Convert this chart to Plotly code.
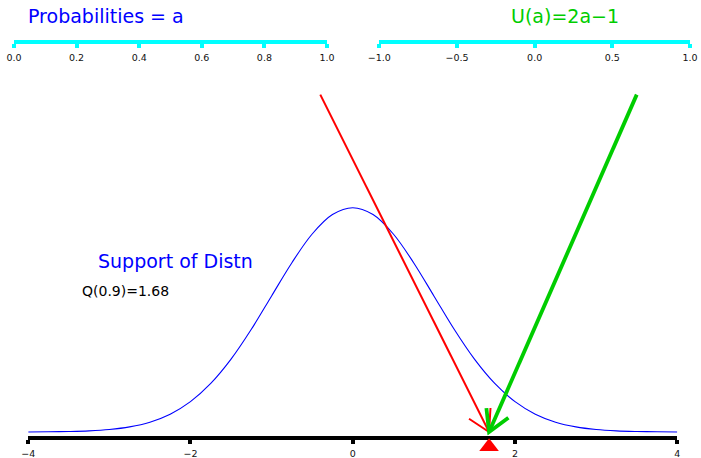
import math
import plotly.graph_objects as go

W, H = 701, 458

# ---------------- data ----------------
prob_ticks = [0.0, 0.2, 0.4, 0.6, 0.8, 1.0]
u_ticks = [-1.0, -0.5, 0.0, 0.5, 1.0]
support_ticks = [-4, -2, 0, 2, 4]

a_value = 0.9        # probability marked on the top-left axis
u_value = 0.8        # U(a) = 2a-1 marked on the top-right axis
q_value = 1.68       # quantile marked on the support axis

curve_x = [-4.0, -3.75, -3.5, -3.25, -3.0, -2.75, -2.5, -2.25, -2.0, -1.75, -1.5,
           -1.25, -1.0, -0.75, -0.5, -0.25, 0.0, 0.25, 0.5, 0.75, 1.0, 1.25, 1.5,
           1.75, 2.0, 2.25, 2.5, 2.75, 3.0, 3.25, 3.5, 3.75, 4.0]
curve_y = [0.0001, 0.0004, 0.0009, 0.0020, 0.0044, 0.0091, 0.0175, 0.0317, 0.0540,
           0.0863, 0.1295, 0.1826, 0.2420, 0.3011, 0.3521, 0.3867, 0.3989, 0.3867,
           0.3521, 0.3011, 0.2420, 0.1826, 0.1295, 0.0863, 0.0540, 0.0317, 0.0175,
           0.0091, 0.0044, 0.0020, 0.0009, 0.0004, 0.0001]

red_arrow_from = (-0.4, 0.6)
green_arrow_from = (3.5, 0.6)
arrow_to = (q_value, 0.0)

# ---------------- layout geometry (pixels) ----------------
MX0, MX1 = 28.2, 677.3          # pixel span of -4..4
KX = (MX1 - MX0) / 8.0          # px per x unit
BASE_PY = 432.0                 # pixel row of density 0
KY = 562.3                      # px per density unit
main_axis_py = 435.5            # domain edge (line drawn ~2px below)
main_yrange = [-(main_axis_py - BASE_PY) / KY, BASE_PY / KY]
top_axis_py = 39.7

FONT = "DejaVu Sans"
BLUE = "#0000FF"
RED = "#FF0000"
GREEN = "#00CD00"
CYAN = "#00FFFF"


def arrow_head(frm, to, length_px=24, angle_deg=30):
    dxp = (frm[0] - to[0]) * KX
    dyp = -(frm[1] - to[1]) * KY
    n = math.hypot(dxp, dyp)
    ux, uy = dxp / n, dyp / n
    xs, ys = [], []
    for sgn in (1, -1):
        t = math.radians(angle_deg) * sgn
        rx = ux * math.cos(t) - uy * math.sin(t)
        ry = ux * math.sin(t) + uy * math.cos(t)
        xs.append(to[0] + rx * length_px / KX)
        ys.append(to[1] - ry * length_px / KY)
    return [xs[0], to[0], xs[1]], [ys[0], to[1], ys[1]]


fig = go.Figure()

fig.add_trace(go.Scatter(x=curve_x, y=curve_y, mode="lines",
                         line=dict(color=BLUE, width=1.1, shape="spline"),
                         xaxis="x3", yaxis="y3", hoverinfo="skip", cliponaxis=False))

for frm, col, w in [(red_arrow_from, RED, 2), (green_arrow_from, GREEN, 3.8)]:
    fig.add_trace(go.Scatter(x=[frm[0], arrow_to[0]], y=[frm[1], arrow_to[1]], mode="lines",
                             line=dict(color=col, width=w), xaxis="x3", yaxis="y3",
                             hoverinfo="skip", cliponaxis=False))
    hx, hy = arrow_head(frm, arrow_to)
    fig.add_trace(go.Scatter(x=hx, y=hy, mode="lines", line=dict(color=col, width=w),
                             xaxis="x3", yaxis="y3", hoverinfo="skip", cliponaxis=False))

tri_size = 17
top_tri_y = top_axis_py - (49 - tri_size * 0.25)
fig.add_trace(go.Scatter(x=[a_value], y=[top_tri_y], mode="markers",
                         marker=dict(symbol="triangle-up", size=tri_size, color=BLUE),
                         xaxis="x", yaxis="y", cliponaxis=False, hoverinfo="skip"))
fig.add_trace(go.Scatter(x=[u_value], y=[top_tri_y], mode="markers",
                         marker=dict(symbol="triangle-up", size=tri_size, color=BLUE),
                         xaxis="x2", yaxis="y2", cliponaxis=False, hoverinfo="skip"))
# bottom strip axis y4: units = pixels up from the bottom of the page
BOT_STRIP = 40.0
bot_tri_py = 451 - tri_size * 0.25
fig.add_trace(go.Scatter(x=[q_value], y=[H - bot_tri_py], mode="markers",
                         marker=dict(symbol="triangle-up", size=tri_size, color=RED),
                         xaxis="x3", yaxis="y4", cliponaxis=False, hoverinfo="skip"))

tickfont = dict(family=FONT, size=9.5, color="#111111")
common = dict(showgrid=False, zeroline=False, showline=True, ticks="outside",
              tickwidth=4, ticklen=4, tickfont=tickfont, fixedrange=True,
              automargin=False, ticklabelstandoff=2)
ycommon = dict(visible=False, fixedrange=True, automargin=False, showgrid=False,
               zeroline=False)

top_dom = [(H - top_axis_py) / H, 1]
fig.update_layout(
    width=W, height=H, margin=dict(l=0, r=0, t=0, b=0, pad=0, autoexpand=False),
    paper_bgcolor="white", plot_bgcolor="rgba(0,0,0,0)", showlegend=False,
    xaxis=dict(domain=[14 / W, 327 / W], range=[0, 1], tickvals=prob_ticks,
               tickformat=".1f", linecolor=CYAN, linewidth=4, tickcolor=CYAN,
               anchor="y", **common),
    yaxis=dict(domain=top_dom, range=[0, top_axis_py], anchor="x", **ycommon),
    xaxis2=dict(domain=[379.3 / W, 690 / W], range=[-1, 1], tickvals=u_ticks,
                tickformat=".1f", linecolor=CYAN, linewidth=4, tickcolor=CYAN,
                anchor="y2", **common),
    yaxis2=dict(domain=top_dom, range=[0, top_axis_py], anchor="x2", **ycommon),
    xaxis3=dict(domain=[MX0 / W, MX1 / W], range=[-4, 4], tickvals=support_ticks,
                tickformat="d", linecolor="black", linewidth=4, tickcolor="black",
                anchor="y3", **common),
    yaxis3=dict(domain=[(H - main_axis_py) / H, 1], range=main_yrange, anchor="x3",
                **ycommon),
    yaxis4=dict(domain=[0, BOT_STRIP / H], range=[0, BOT_STRIP], anchor="x3",
                **ycommon),
)


def label(text, px, py, size, color, xanchor="center"):
    fig.add_annotation(text=text, x=px / W, y=1 - py / H, xref="paper", yref="paper",
                       showarrow=False, xanchor=xanchor, yanchor="middle",
                       font=dict(family=FONT, size=size, color=color))


label("Probabilities = a", 105.5, 16, 19, BLUE)
label("U(a)=2a\u22121", 565, 16, 19, GREEN)
label("Support of Distn", 175, 261, 19, BLUE)
label("Q(0.9)=1.68", 80, 291, 14, "black", xanchor="left")

fig.write_html("out.html", config={"displayModeBar": False},
               post_script="document.body.style.margin='0';document.body.style.overflow='hidden';")
